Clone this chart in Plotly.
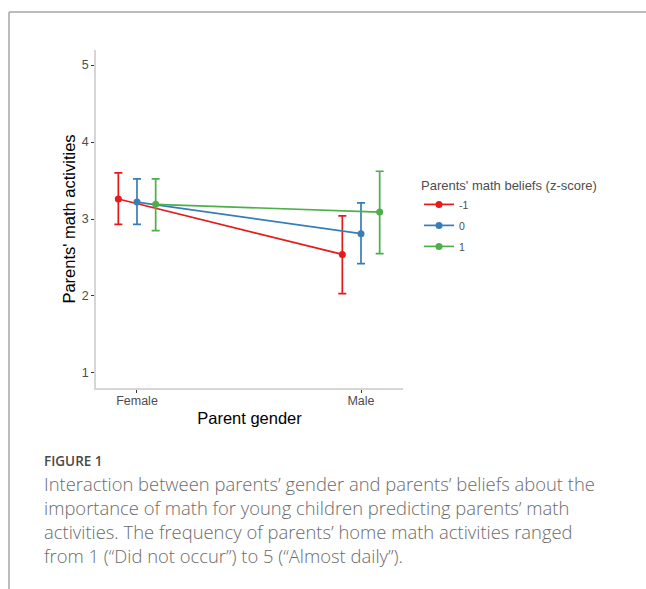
import plotly.graph_objects as go

# Interaction plot: parents' math activities by parent gender and math beliefs
genders = ["Female", "Male"]
belief_levels = ["-1", "0", "1"]
colors = ["#E41A1C", "#377EB8", "#4DAF4A"]

means = {
    "-1": [3.26, 2.54],
    "0": [3.22, 2.81],
    "1": [3.19, 3.09],
}
ci_low = {
    "-1": [2.93, 2.03],
    "0": [2.93, 2.42],
    "1": [2.85, 2.55],
}
ci_high = {
    "-1": [3.60, 3.04],
    "0": [3.52, 3.21],
    "1": [3.52, 3.62],
}
y_ticks = [1, 2, 3, 4, 5]

caption_label = "FIGURE 1"
caption_lines = [
    "Interaction between parents’ gender and parents’ beliefs about the",
    "importance of math for young children predicting parents’ math",
    "activities. The frequency of parents’ home math activities ranged",
    "from 1 (“Did not occur”) to 5 (“Almost daily”).",
]

W, H = 646, 589
dodge = 0.25  # total dodge width shared by the three groups
n = len(belief_levels)

fig = go.Figure()
for i, (lvl, col) in enumerate(zip(belief_levels, colors)):
    off = (i - (n - 1) / 2) * dodge / n
    xs = [k + 1 + off for k in range(len(genders))]
    m = means[lvl]
    fig.add_trace(go.Scatter(
        x=xs, y=m, name=lvl, mode="lines+markers",
        line=dict(color=col, width=1.7),
        marker=dict(color=col, size=7),
        error_y=dict(
            type="data", symmetric=False,
            array=[h - v for h, v in zip(ci_high[lvl], m)],
            arrayminus=[v - l for v, l in zip(m, ci_low[lvl])],
            color=col, thickness=1.7, width=4,
        ),
        legendgroup=lvl,
    ))

def px_y(y):
    return (H - y) / H

font_main = "Liberation Sans, Arial, Helvetica, sans-serif"

fig.update_layout(
    width=W, height=H,
    margin=dict(l=0, r=0, t=0, b=0),
    paper_bgcolor="white", plot_bgcolor="white",
    font=dict(family=font_main, color="#4d4d4d"),
    xaxis=dict(
        domain=[96 / W, 403 / W],
        range=[0.817, 2.1875],
        tickvals=[1, 2], ticktext=genders,
        showline=True, linecolor="#d6d6d6", linewidth=1.5,
        ticks="outside", ticklen=3, tickcolor="#333333", tickwidth=1,
        showgrid=False, zeroline=False,
        tickfont=dict(size=12.5, color="#4d4d4d"),
        ticklabelstandoff=-3,
        title=dict(text="Parent gender", font=dict(size=16.5, color="#000000"), standoff=6),
    ),
    yaxis=dict(
        domain=[px_y(388), px_y(50)],
        range=[0.805, 5.195],
        tickvals=y_ticks,
        showline=True, linecolor="#d6d6d6", linewidth=1.5,
        ticks="outside", ticklen=3, tickcolor="#333333", tickwidth=1,
        showgrid=False, zeroline=False,
        tickfont=dict(size=12.5, color="#4d4d4d"),
        title=dict(text="Parents' math activities", font=dict(size=16.5, color="#000000"), standoff=2),
    ),
    legend=dict(
        title=dict(text="Parents' math beliefs (z-score)", font=dict(size=13, color="#4d4d4d")),
        font=dict(size=10.5, color="#4d4d4d"),
        x=419 / W, xanchor="left",
        y=px_y(173), yanchor="top",
        bgcolor="rgba(0,0,0,0)",
        tracegroupgap=2,
        itemwidth=30,
    ),
    showlegend=True,
)

# Figure frame (left and top rules)
fig.add_shape(type="line", xref="paper", yref="paper",
              x0=9 / W, x1=9 / W, y0=0, y1=px_y(12),
              line=dict(color="#a6a6a6", width=1.5))
fig.add_shape(type="line", xref="paper", yref="paper",
              x0=9 / W, x1=1, y0=px_y(12), y1=px_y(12),
              line=dict(color="#a6a6a6", width=1.5))

# Caption
fig.add_annotation(text=caption_label, xref="paper", yref="paper",
                   x=42 / W, y=px_y(461), xanchor="left", yanchor="middle",
                   showarrow=False,
                   font=dict(family="Open Sans, sans-serif", size=13.5, color="#4a4a4a", weight=600))
for k, line in enumerate(caption_lines):
    fig.add_annotation(text=line, xref="paper", yref="paper",
                       x=42 / W, y=px_y(483 + 24.2 * k), xanchor="left", yanchor="middle",
                       showarrow=False,
                       font=dict(family="Open Sans, sans-serif", size=18.4, color="#6b6b6b", weight=300))

fig.write_html("out.html")
